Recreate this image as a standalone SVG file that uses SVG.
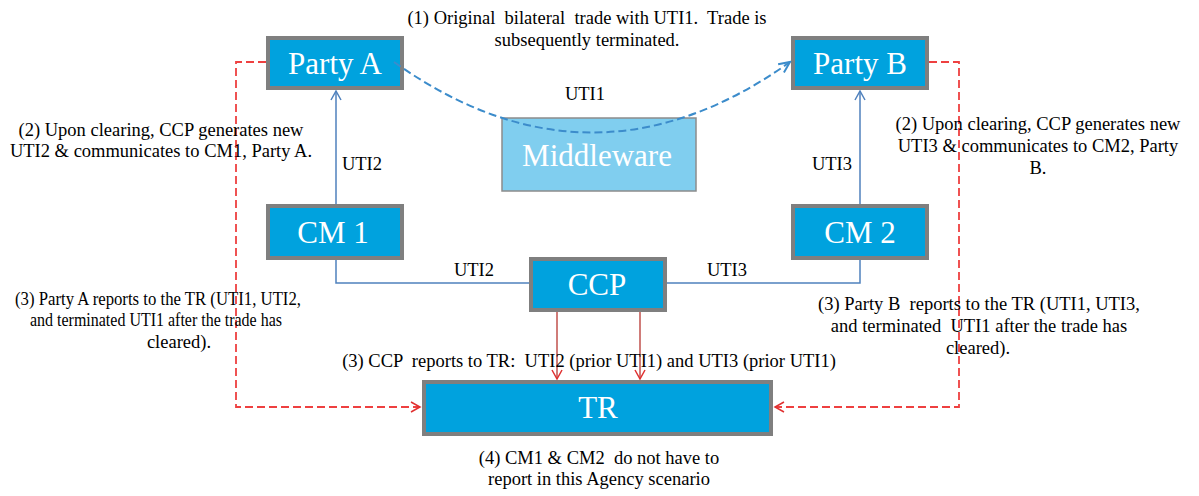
<svg xmlns="http://www.w3.org/2000/svg" width="1199" height="496" viewBox="0 0 1199 496">
<style>
.box{fill:#00A2DE;stroke:#7F7F7F;stroke-width:4}
.mid{fill:#80CEEF;stroke:#8C8C8C;stroke-width:1.5}
text{font-family:'Liberation Serif','DejaVu Serif',serif}
.nt{font-size:31px;fill:#fff;text-anchor:middle}
.lb{font-size:18.5px;fill:#000;text-anchor:middle;white-space:pre}
.blue{fill:none;stroke:#4F81BD;stroke-width:1.5}
.red{fill:none;stroke:#C0504D;stroke-width:1.5}
.rdash{fill:none;stroke:#EE4040;stroke-width:1.8;stroke-dasharray:8,4}
.bdash{fill:none;stroke:#3C8CCB;stroke-width:2;stroke-dasharray:8,4}
</style>
<defs>
<marker id="ab" markerWidth="12" markerHeight="12" refX="10" refY="6" orient="auto" markerUnits="userSpaceOnUse"><path d="M1,1 L10,6 L1,11" fill="none" stroke="#4F81BD" stroke-width="1.5"/></marker>
<marker id="ad" markerWidth="14" markerHeight="14" refX="12" refY="7" orient="auto" markerUnits="userSpaceOnUse"><path d="M1,2 L12,7 L1,12" fill="none" stroke="#3C8CCB" stroke-width="2"/></marker>
<marker id="ar" markerWidth="12" markerHeight="12" refX="10" refY="6" orient="auto" markerUnits="userSpaceOnUse"><path d="M1,1 L10,6 L1,11" fill="none" stroke="#E03030" stroke-width="1.5"/></marker>
</defs>
<rect width="1199" height="496" fill="#fff"/>
<g id="partyA"><rect class="box" x="268" y="38" width="134" height="50"/><text class="nt" x="335" y="74">Party A</text></g>
<g id="partyB"><rect class="box" x="793" y="38" width="134" height="50"/><text class="nt" x="860" y="74">Party B</text></g>
<g id="middleware"><rect class="mid" x="502" y="118" width="194" height="73"/><text class="nt" x="597" y="166">Middleware</text></g>
<g id="cm1"><rect class="box" x="268" y="206" width="134" height="52"/><text class="nt" x="333" y="243">CM 1</text></g>
<g id="cm2"><rect class="box" x="793" y="206" width="134" height="52"/><text class="nt" x="860" y="243">CM 2</text></g>
<g id="ccp"><rect class="box" x="531" y="259" width="134" height="51"/><text class="nt" x="597" y="295">CCP</text></g>
<g id="tr"><rect class="box" x="424" y="382" width="347" height="52"/><text class="nt" x="598" y="418">TR</text></g>
<g id="connectors">
<path class="bdash" d="M394,62 Q592,203 790,62" marker-end="url(#ad)"/>
<path class="blue" d="M336,204 L336,91" marker-end="url(#ab)"/>
<path class="blue" d="M336,260 L336,283 L529,283"/>
<path class="blue" d="M667,283 L860,283 L860,260"/>
<path class="blue" d="M860,204 L860,91" marker-end="url(#ab)"/>
<path class="red" d="M557,312 L557,379" marker-end="url(#ar)"/>
<path class="red" d="M640,312 L640,379" marker-end="url(#ar)"/>
<path class="rdash" d="M266,62 L236,62 L236,407 L420,407" marker-end="url(#ar)"/>
<path class="rdash" d="M929,62 L959,62 L959,407 L775,407" marker-end="url(#ar)"/>
</g>
<g id="labels">
<text class="lb" x="587" y="24">(1) Original  bilateral  trade with UTI1.  Trade is</text>
<text class="lb" x="587" y="46">subsequently terminated.</text>
<text class="lb" x="585" y="100">UTI1</text>
<text class="lb" x="161" y="136">(2) Upon clearing, CCP generates new</text>
<text class="lb" x="161" y="157">UTI2 &amp; communicates to CM1, Party A.</text>
<text class="lb" x="362" y="170">UTI2</text>
<text class="lb" x="832" y="170">UTI3</text>
<text class="lb" x="1038" y="130">(2) Upon clearing, CCP generates new</text>
<text class="lb" x="1038" y="152">UTI3 &amp; communicates to CM2, Party</text>
<text class="lb" x="1038" y="174">B.</text>
<text class="lb" x="474" y="276">UTI2</text>
<text class="lb" x="727" y="276">UTI3</text>
<text class="lb" x="158" y="305" textLength="286" lengthAdjust="spacingAndGlyphs">(3) Party A reports to the TR (UTI1, UTI2,</text>
<text class="lb" x="156" y="326" textLength="252" lengthAdjust="spacingAndGlyphs">and terminated UTI1 after the trade has</text>
<text class="lb" x="179" y="348">cleared).</text>
<text class="lb" x="979" y="310">(3) Party B  reports to the TR (UTI1, UTI3,</text>
<text class="lb" x="979" y="332">and terminated  UTI1 after the trade has</text>
<text class="lb" x="978" y="354">cleared).</text>
<text class="lb" x="589" y="367">(3) CCP  reports to TR:  UTI2 (prior UTI1) and UTI3 (prior UTI1)</text>
<text class="lb" x="599" y="464">(4) CM1 &amp; CM2  do not have to</text>
<text class="lb" x="599" y="485">report in this Agency scenario</text>
</g>
</svg>
